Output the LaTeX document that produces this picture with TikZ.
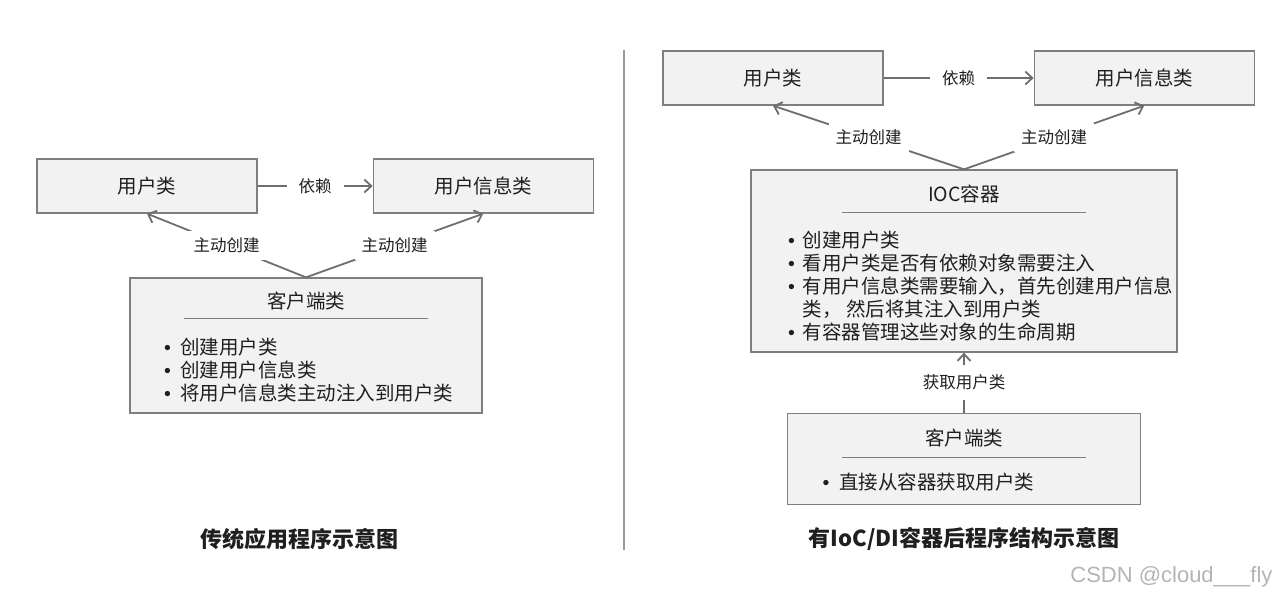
\documentclass[tikz,border=0pt]{standalone}
\usepackage{fontspec}
\setmainfont{Noto Sans CJK SC}
\newfontfamily\latinfont{Liberation Sans}
\usetikzlibrary{positioning, arrows.meta}

\definecolor{boxfill}{HTML}{F2F2F2}
\definecolor{boxline}{HTML}{7F7F7F}
\definecolor{linkgray}{HTML}{6E6E6E}
\definecolor{txt}{HTML}{1F1F1F}
\definecolor{markgray}{HTML}{B4B4B4}

\newcommand{\bul}{{\latinfont\textbullet}}

\tikzstyle{classbox} = [
    rectangle,
    minimum width=220pt,
    minimum height=54pt,
    draw=boxline,
    fill=boxfill,
    line width=1.3pt,
    text=txt,
    font=\fontsize{19.5}{22}\selectfont
]
\tikzstyle{groupbox} = [
    rectangle,
    draw=boxline,
    fill=boxfill,
    line width=1.3pt
]
\tikzstyle{boxtitle} = [text=txt, inner sep=0pt, font=\fontsize{19.5}{22}\selectfont]
\tikzstyle{itemlist} = [anchor=north west, inner sep=0pt, text=txt, font=\fontsize{19.5}{22}\selectfont]
\tikzstyle{titlerule} = [draw=boxline, line width=1pt]
\tikzstyle{arrow} = [line width=1.8pt, draw=linkgray, -{Straight Barb[length=7pt,width=13pt]}]
\tikzstyle{linklabel} = [fill=white, text=txt, inner sep=7pt, font=\fontsize{16.5}{18}\selectfont]
\tikzstyle{deplabel} = [linklabel, inner xsep=12pt, inner ysep=2pt]
\tikzstyle{getlabel} = [linklabel, inner xsep=2pt, inner ysep=10pt]
\tikzstyle{caption} = [text=txt, font=\fontsize{22}{25}\selectfont\bfseries]

\begin{document}
\begin{tikzpicture}[x=1pt, y=-1pt]
\useasboundingbox (0,0) rectangle (1278,598);

% traditional program
\node (user) [classbox] at (147,186) {用户类};
\node (info) [classbox, right=115pt of user] {用户信息类};
\node (client) [groupbox, minimum width=352pt, minimum height=135pt] at (306,345.5) {};
\node (clienttitle) [boxtitle] at ([yshift=-24pt]client.north) {客户端类};
\draw [titlerule] ([xshift=-122pt, yshift=-41pt]client.north) -- ++(244,0);
\node (clientitems) [itemlist] at ([xshift=34.5pt, yshift=-60pt]client.north west)
{\begin{tabular}{@{}l@{\hspace{9.5pt}}l@{}}
\bul & 创建用户类\\
\bul & 创建用户信息类\\
\bul & 将用户信息类主动注入到用户类
\end{tabular}};

\draw [arrow] (user) -- node [deplabel] {依赖} (info);
\draw [arrow] (client.north) -- node [linklabel] {主动创建} (user.south);
\draw [arrow] (client.north) -- node [linklabel] {主动创建} (info.south);

% divider
\draw [draw=boxline!80, line width=1.2pt] (624,50) -- (624,550);

% program with IoC/DI container
\node (userR) [classbox] at (773,78) {用户类};
\node (infoR) [classbox, right=150pt of userR] {用户信息类};
\node (ioc) [groupbox, minimum width=426pt, minimum height=182pt] at (964,261) {};
\node (ioctitle) [boxtitle] at ([yshift=-25pt]ioc.north) {IOC容器};
\draw [titlerule] ([xshift=-122pt, yshift=-43pt]ioc.north) -- ++(244,0);
\node (iocitems) [itemlist] at ([xshift=37.5pt, yshift=-61pt]ioc.north west)
{\begin{tabular}{@{}l@{\hspace{8pt}}l@{}}
\bul & 创建用户类\\
\bul & 看用户类是否有依赖对象需要注入\\
\bul & 有用户信息类需要输入，首先创建用户信息\\
     & 类， 然后将其注入到用户类\\
\bul & 有容器管理这些对象的生命周期
\end{tabular}};
\node (clientR) [groupbox, minimum width=353pt, minimum height=91pt, below=60pt of ioc] {};
\node (clientRtitle) [boxtitle] at ([yshift=-25pt]clientR.north) {客户端类};
\draw [titlerule] ([xshift=-122pt, yshift=-45pt]clientR.north) -- ++(244,0);
\node (clientRitems) [itemlist] at ([xshift=35.5pt, yshift=-60pt]clientR.north west)
{\begin{tabular}{@{}l@{\hspace{10pt}}l@{}}
\bul & 直接从容器获取用户类
\end{tabular}};

\draw [arrow] (userR) -- node [deplabel] {依赖} (infoR);
\draw [arrow] (ioc.north) -- node [linklabel] {主动创建} (userR.south);
\draw [arrow] (ioc.north) -- node [linklabel] {主动创建} (infoR.south);
\draw [arrow] (clientR) -- node [getlabel] {获取用户类} (ioc);

% captions
\node (capL) [caption] at (299,539) {传统应用程序示意图};
\node (capR) [caption] at (964,539) {有IoC/DI容器后程序结构示意图};
\node (mark) [anchor=east, text=markgray, font=\latinfont\fontsize{22}{24}\selectfont] at (1276,577) {CSDN @cloud\_\_\_fly};

\end{tikzpicture}
\end{document}
